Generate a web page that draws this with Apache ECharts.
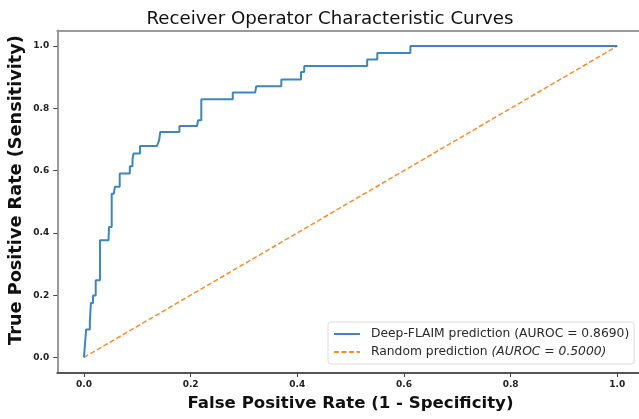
<!DOCTYPE html>
<html>
<head>
<meta charset="utf-8">
<script src="https://cdn.jsdelivr.net/npm/echarts@6/dist/echarts.min.js"></script>
<style>html,body{margin:0;padding:0;background:#fff}#c{width:639px;height:419px}</style>
</head>
<body>
<div id="c"></div>
<script>
// ROC curve (false positive rate, true positive rate)
var rocFpr = [0.000, 0.004, 0.011, 0.011, 0.013, 0.017, 0.017, 0.022, 0.022, 0.030, 0.030, 0.046, 0.047, 0.052, 0.052, 0.056, 0.058, 0.067, 0.067, 0.086, 0.086, 0.091, 0.091, 0.093, 0.093, 0.105, 0.105, 0.137, 0.141, 0.143, 0.143, 0.179, 0.179, 0.212, 0.214, 0.220, 0.220, 0.279, 0.279, 0.321, 0.323, 0.370, 0.370, 0.407, 0.407, 0.413, 0.413, 0.531, 0.531, 0.550, 0.550, 0.612, 0.612, 1.000];
var rocTpr = [0.000, 0.090, 0.090, 0.114, 0.175, 0.175, 0.199, 0.199, 0.248, 0.248, 0.376, 0.376, 0.419, 0.419, 0.526, 0.526, 0.548, 0.548, 0.591, 0.591, 0.614, 0.614, 0.636, 0.636, 0.655, 0.655, 0.679, 0.679, 0.698, 0.698, 0.724, 0.724, 0.743, 0.743, 0.762, 0.762, 0.829, 0.829, 0.851, 0.851, 0.871, 0.871, 0.893, 0.893, 0.917, 0.917, 0.936, 0.936, 0.957, 0.957, 0.978, 0.978, 1.000, 1.000];
var randomFpr = [0.0, 1.0];
var randomTpr = [0.0, 1.0];
var tickValues = [0.0, 0.2, 0.4, 0.6, 0.8, 1.0];
var tickLabels = ['0.0', '0.2', '0.4', '0.6', '0.8', '1.0'];
var seriesNames = ['Deep-FLAIM prediction (AUROC = 0.8690)', 'Random prediction (AUROC = 0.5000)'];
var titleText = 'Receiver Operator Characteristic Curves';
var xTitle = 'False Positive Rate (1 - Specificity)';
var yTitle = 'True Positive Rate (Sensitivity)';

function pairs(xs, ys) { return xs.map(function (x, i) { return [x, ys[i]]; }); }
function fmtTick(v) {
  for (var i = 0; i < tickValues.length; i++) if (Math.abs(tickValues[i] - v) < 1e-9) return tickLabels[i];
  return '';
}

var X_MIN = -0.05, X_MAX = 1.0407;
var chart = echarts.init(document.getElementById('c'), null, {renderer: 'canvas'});
chart.setOption({
  animation: false,
  backgroundColor: '#fff',
  title: {
    text: titleText, left: 325, top: 5, textAlign: 'center',
    textStyle: {fontFamily: 'DejaVu Sans', fontSize: 18.2, fontWeight: 'normal', color: '#111'}
  },
  graphic: [{
    type: 'text', x: 16, y: 190, rotation: Math.PI / 2,
    style: {text: yTitle, fontFamily: 'DejaVu Sans', fontSize: 17.7, fontWeight: 'bold', fill: '#111', align: 'center', verticalAlign: 'middle'}
  }, {
    type: 'text', x: 350.5, y: 404,
    style: {text: xTitle, fontFamily: 'DejaVu Sans', fontSize: 16.6, fontWeight: 'bold', fill: '#111', align: 'center', verticalAlign: 'middle'}
  }],
  grid: {left: 57.3, right: 0, top: 30.5, bottom: 46},
  legend: {
    orient: 'vertical', left: 328, top: 322,
    backgroundColor: '#fff', borderColor: '#dcdcdc', borderWidth: 1, borderRadius: 3,
    padding: [6, 5, 6, 5], itemWidth: 26, itemHeight: 14, itemGap: 6,
    itemStyle: {opacity: 0},
    data: seriesNames,
    formatter: function (name) {
      if (name === seriesNames[1]) return 'Random prediction {i|(AUROC = 0.5000)}';
      return name;
    },
    textStyle: {fontFamily: 'DejaVu Sans', fontSize: 12.3, color: '#2a2a2a', padding: [0, 0, 0, 6],
      rich: {i: {fontFamily: 'DejaVu Sans', fontSize: 12.3, fontStyle: 'italic', color: '#2a2a2a'}}}
  },
  xAxis: [{
    type: 'value', min: X_MIN, max: X_MAX,
    axisLine: {show: true, onZero: false, lineStyle: {color: '#555', width: 2}},
    axisTick: {show: true, length: 4, customValues: tickValues, lineStyle: {color: '#444', width: 1}},
    axisLabel: {customValues: tickValues, formatter: fmtTick, margin: 7, fontFamily: 'DejaVu Sans', fontSize: 9, fontWeight: 'bold', color: '#222'},
    splitLine: {show: false}
  }, {
    type: 'value', position: 'top', min: X_MIN, max: X_MAX,
    axisLine: {show: true, onZero: false, lineStyle: {color: '#9a9a9a', width: 2}},
    axisTick: {show: false}, axisLabel: {show: false}, splitLine: {show: false}
  }],
  yAxis: {
    type: 'value', min: -0.05, max: 1.05,
    axisLine: {show: true, onZero: false, lineStyle: {color: '#9a9a9a', width: 2}},
    axisTick: {show: true, length: 4, customValues: tickValues, lineStyle: {color: '#444', width: 1}},
    axisLabel: {customValues: tickValues, formatter: fmtTick, margin: 8, fontFamily: 'DejaVu Sans', fontSize: 9, fontWeight: 'bold', color: '#222'},
    splitLine: {show: false}
  },
  series: [
    {
      name: seriesNames[0], type: 'line', data: pairs(rocFpr, rocTpr),
      symbol: 'none', lineStyle: {color: '#3a87c2', width: 2}, itemStyle: {color: '#3a87c2'}, z: 3
    },
    {
      name: seriesNames[1], type: 'line', data: pairs(randomFpr, randomTpr),
      symbol: 'none', lineStyle: {color: '#ff8a2a', width: 1.5, type: [5, 2.5]}, itemStyle: {color: '#ff8a2a'}, z: 2
    }
  ]
});
</script>
</body>
</html>
